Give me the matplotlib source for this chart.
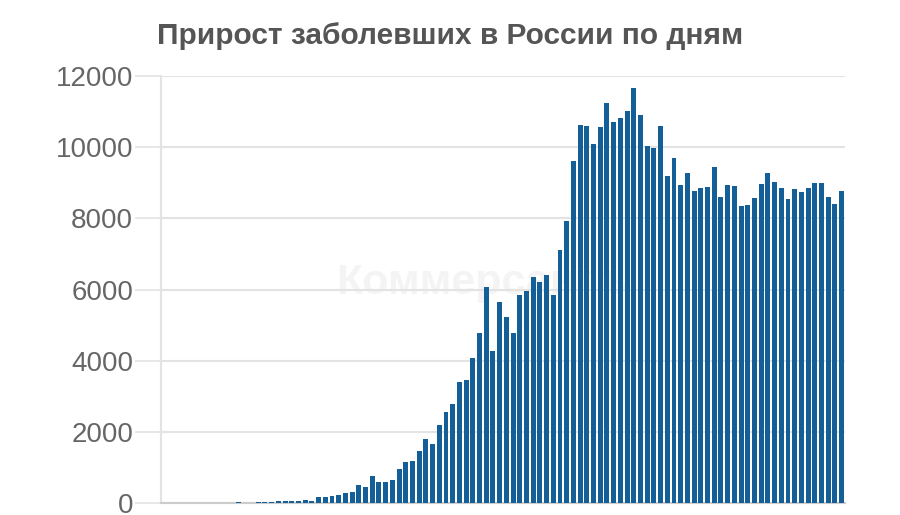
import matplotlib.pyplot as plt

# daily new cases in Russia, 2 March - 11 June 2020
march = [1, 0, 0, 1, 6, 4, 3, 0, 3, 0, 8, 17, 14, 4, 30, 21, 33, 52, 54, 53,
         61, 71, 57, 163, 182, 196, 228, 270, 302, 501]
april = [440, 771, 601, 582, 658, 954, 1154, 1175, 1459, 1786, 1667, 2186, 2558,
         2774, 3388, 3448, 4070, 4785, 6060, 4268, 5642, 5236, 4774, 5849, 5966,
         6361, 6198, 6411, 5841, 7099]
may = [7933, 9623, 10633, 10581, 10102, 10559, 11231, 10699, 10817, 11012, 11656,
       10899, 10028, 9974, 10598, 9200, 9709, 8926, 9263, 8764, 8849, 8894, 9434,
       8599, 8946, 8915, 8338, 8371, 8572, 8952, 9268]
june = [9035, 8863, 8536, 8831, 8726, 8855, 8984, 8985, 8595, 8404, 8779]

cases = march + april + may + june
days = list(range(len(cases)))
y_ticks = [0, 2000, 4000, 6000, 8000, 10000, 12000]

bar_color = '#155f98'
grid_color = '#e3e3e3'
text_color = '#666666'

plt.rcParams['font.family'] = ['Liberation Sans', 'DejaVu Sans']

fig = plt.figure(figsize=(9, 5.15), dpi=100, facecolor='white')
ax = fig.add_axes([161 / 900, 12 / 515, 684 / 900, 427 / 515])

# faint watermark
ax.text(0.47, 0.515, 'Коммерсантъ', transform=ax.transAxes, ha='center', va='center',
        fontsize=31, fontweight='bold', color='#f4f4f4', zorder=0)

ax.bar(days, cases, width=0.74, color=bar_color, zorder=3)

ax.set_xlim(-0.5, len(cases) - 0.5)
ax.set_ylim(0, 12000)
ax.set_yticks(y_ticks)
ax.set_yticklabels([str(t) for t in y_ticks])
ax.set_xticks([])

ax.grid(axis='y', color=grid_color, linewidth=1.5, zorder=1)
for side in ['top', 'right']:
    ax.spines[side].set_visible(False)
ax.spines['left'].set_color(grid_color)
ax.spines['left'].set_linewidth(1.5)
ax.spines['bottom'].set_color('#cccccc')
ax.spines['bottom'].set_linewidth(1.5)

ax.tick_params(axis='y', length=19, width=1.2, color=grid_color, pad=1,
               labelsize=20, labelcolor=text_color)

fig.text(0.5, 1 - 36 / 515, 'Прирост заболевших в России по дням', ha='center',
         va='center', fontsize=21.5, fontweight='bold', color='#555555')

plt.savefig('out.png', dpi=100, facecolor='white')
